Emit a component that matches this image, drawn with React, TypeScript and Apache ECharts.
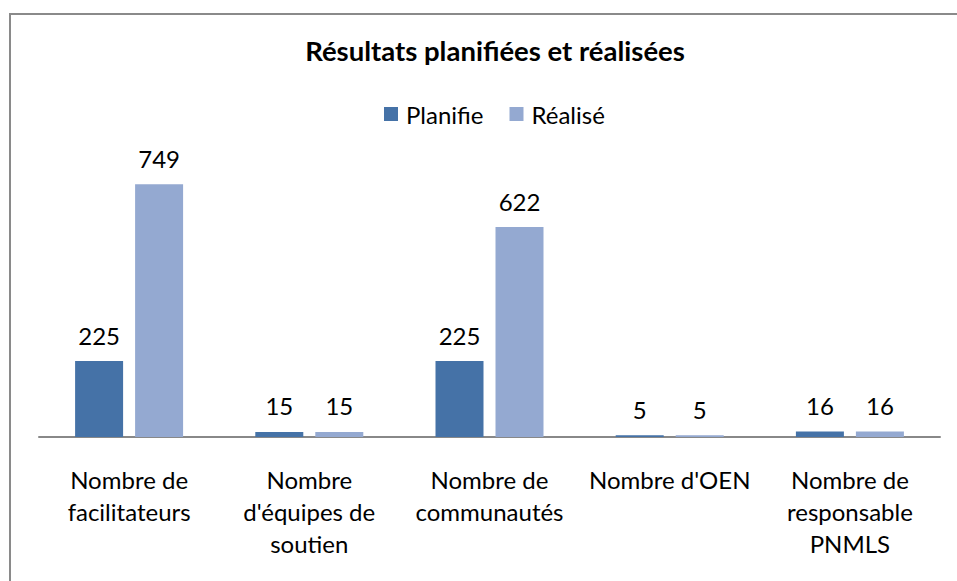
import React, { useEffect, useRef } from "react";
import * as echarts from "echarts";

const categories = [
  "Nombre de\nfacilitateurs",
  "Nombre\nd'équipes de\nsoutien",
  "Nombre de\ncommunautés",
  "Nombre d'OEN",
  "Nombre de\nresponsable\nPNMLS",
];
const planifie = [225, 15, 225, 5, 16];
const realise = [749, 15, 622, 5, 16];
const seriesNames = ["Planifie", "Réalisé"];
const titleText = "Résultats planifiées et réalisées";

const FONT = "Lato, 'Open Sans', sans-serif";

export default function App() {
  const ref = useRef<HTMLDivElement>(null);
  useEffect(() => {
    if (!ref.current) return;
    const chart = echarts.init(ref.current, null, { renderer: "svg" });
    const labelStyle = {
      show: true,
      position: "top" as const,
      distance: 14,
      color: "#000",
      fontSize: 24,
      fontFamily: FONT,
    };
    chart.setOption({
      animation: false,
      backgroundColor: "#fff",
      title: {
        text: titleText,
        left: 490,
        textAlign: "center",
        top: 31,
        textStyle: { fontFamily: FONT, fontWeight: "bold", fontSize: 27.5, color: "#000" },
      },
      legend: {
        data: seriesNames,
        left: 379,
        top: 97,
        icon: "rect",
        itemWidth: 14,
        itemHeight: 14,
        itemGap: 26,
        textStyle: { fontFamily: FONT, fontSize: 24, color: "#000", padding: [0, 0, 0, 3] },
      },
      graphic: [
        {
          type: "rect",
          shape: { x: 10, y: 14, width: 1000, height: 1000 },
          style: { fill: "none", stroke: "#8a8a8a", lineWidth: 2 },
          silent: true,
        },
      ],
      grid: { left: 39, right: 17, top: 167, bottom: 144, containLabel: false },
      xAxis: {
        type: "category",
        data: categories,
        axisLine: { show: true, lineStyle: { color: "#888", width: 2 } },
        axisTick: { show: false },
        axisLabel: {
          interval: 0,
          margin: 26,
          fontFamily: FONT,
          fontSize: 24,
          lineHeight: 32,
          color: "#000",
        },
      },
      yAxis: {
        type: "value",
        min: 0,
        max: 800,
        show: false,
        splitLine: { show: false },
      },
      series: [
        {
          name: seriesNames[0],
          type: "bar",
          data: planifie,
          barWidth: 48,
          barGap: "25%",
          itemStyle: { color: "#4572A7" },
          label: labelStyle,
        },
        {
          name: seriesNames[1],
          type: "bar",
          data: realise,
          barWidth: 48,
          barGap: "25%",
          itemStyle: { color: "#94A9D1" },
          label: labelStyle,
        },
      ],
    });
    return () => chart.dispose();
  }, []);
  return (
    <div
      ref={ref}
      style={{ position: "fixed", left: 0, top: 0, width: 957, height: 581 }}
    />
  );
}
